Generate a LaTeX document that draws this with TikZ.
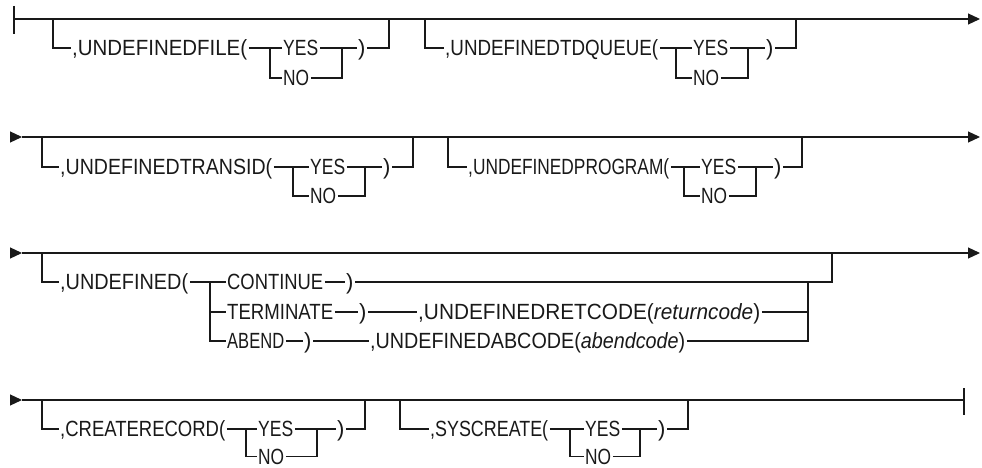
\documentclass[tikz,border=0pt]{standalone}
\usepackage{fontspec}
\usepackage{graphicx}
\setmainfont{Liberation Sans}
\usetikzlibrary{arrows.meta}
\newcommand{\fw}[2]{\resizebox{#1}{\height}{#2}}
\begin{document}
\begin{tikzpicture}[x=1pt,y=-1pt,
  rail/.style={line width=1.2pt, line join=miter, draw=black!90},
  endarrow/.style={rail,-{Triangle[length=12pt,width=11pt]}},
  lbl/.style={anchor=west, inner xsep=1.5pt, inner ysep=0pt, text height=15.6pt, text depth=0pt,
              font=\fontsize{22}{24}\selectfont, text=black!90},
  bar/.style={rail}]
\useasboundingbox (0,0) rectangle (982,468);

% ---------------- Row 1 ----------------
\coordinate (r1s) at (14,19);
\coordinate (r1e) at (980,19);
\coordinate (r1bt) at (14,6);
\coordinate (r1bb) at (14,34);
\draw[bar] (r1bt) -- (r1bb);
\draw[endarrow] (r1s) -- (r1e);
% group A
\coordinate (fa) at (53,19);
\node[lbl] (fileT) at (70.5,48) {\fw{175pt}{,UNDEFINEDFILE(}};
\node[lbl] (fileY) at (281.5,48) {\fw{35pt}{YES}};
\node[lbl] (fileN) at (281.5,78) {\fw{26pt}{NO}};
\node[lbl] (fileP) at (356.5,48) {)};
\coordinate (fileB) at (270,48);
\coordinate (fileR) at (342,48);
\coordinate (fileE) at (389,19);
\draw[rail] (fa) |- (fileT.west);
\draw[rail] (fileT.east) -- (fileY.west);
\draw[rail] (fileB) |- (fileN.west);
\draw[rail] (fileY.east) -- (fileP.west);
\draw[rail] (fileN.east) -| (fileR);
\draw[rail] (fileP.east) -| (fileE);
% group B
\coordinate (tda) at (425,19);
\node[lbl] (tdT) at (443.5,48) {\fw{213pt}{,UNDEFINEDTDQUEUE(}};
\node[lbl] (tdY) at (691.5,48) {\fw{35pt}{YES}};
\node[lbl] (tdN) at (691.5,78) {\fw{26pt}{NO}};
\node[lbl] (tdP) at (764.5,48) {)};
\coordinate (tdB) at (676,48);
\coordinate (tdR) at (748,48);
\coordinate (tdE) at (796,19);
\draw[rail] (tda) |- (tdT.west);
\draw[rail] (tdT.east) -- (tdY.west);
\draw[rail] (tdB) |- (tdN.west);
\draw[rail] (tdY.east) -- (tdP.west);
\draw[rail] (tdN.east) -| (tdR);
\draw[rail] (tdP.east) -| (tdE);

% ---------------- Row 2 ----------------
\coordinate (r2a) at (11,137);
\coordinate (r2s) at (22,137);
\coordinate (r2e) at (980,137);
\draw[endarrow] (r2a) -- (r2s);
\draw[endarrow] (r2s) -- (r2e);
% group A
\coordinate (tra) at (42,137);
\node[lbl] (trT) at (58.5,167) {\fw{212pt}{,UNDEFINEDTRANSID(}};
\node[lbl] (trY) at (308.5,167) {\fw{35pt}{YES}};
\node[lbl] (trN) at (308.5,196) {\fw{26pt}{NO}};
\node[lbl] (trP) at (381.5,167) {)};
\coordinate (trB) at (293,167);
\coordinate (trR) at (365,167);
\coordinate (trE) at (413,137);
\draw[rail] (tra) |- (trT.west);
\draw[rail] (trT.east) -- (trY.west);
\draw[rail] (trB) |- (trN.west);
\draw[rail] (trY.east) -- (trP.west);
\draw[rail] (trN.east) -| (trR);
\draw[rail] (trP.east) -| (trE);
% group B
\coordinate (pga) at (448,137);
\node[lbl] (pgT) at (466.5,167) {\fw{201pt}{,UNDEFINEDPROGRAM(}};
\node[lbl] (pgY) at (699.5,167) {\fw{35pt}{YES}};
\node[lbl] (pgN) at (699.5,196) {\fw{26pt}{NO}};
\node[lbl] (pgP) at (772.5,167) {)};
\coordinate (pgB) at (684,167);
\coordinate (pgR) at (756,167);
\coordinate (pgE) at (802,137);
\draw[rail] (pga) |- (pgT.west);
\draw[rail] (pgT.east) -- (pgY.west);
\draw[rail] (pgB) |- (pgN.west);
\draw[rail] (pgY.east) -- (pgP.west);
\draw[rail] (pgN.east) -| (pgR);
\draw[rail] (pgP.east) -| (pgE);

% ---------------- Row 3 ----------------
\coordinate (r3a) at (11,253);
\coordinate (r3s) at (22,253);
\coordinate (r3e) at (980,253);
\draw[endarrow] (r3a) -- (r3s);
\draw[endarrow] (r3s) -- (r3e);
\coordinate (uda) at (42,253);
\node[lbl] (udT) at (58.5,282) {\fw{128pt}{,UNDEFINED(}};
\coordinate (udB) at (210,282);
\node[lbl] (conT) at (225.5,282) {\fw{96pt}{CONTINUE}};
\node[lbl] (conP) at (344.5,282) {)};
\node[lbl] (terT) at (225.5,312) {\fw{106pt}{TERMINATE}};
\node[lbl] (terP) at (357.5,312) {)};
\node[lbl] (retT) at (416.5,312) {\fw{342pt}{,UNDEFINEDRETCODE(\textit{returncode})}};
\node[lbl] (abT) at (225.5,341) {\fw{57pt}{ABEND}};
\node[lbl] (abP) at (302.5,341) {)};
\node[lbl] (abcT) at (368.5,341) {\fw{315pt}{,UNDEFINEDABCODE(\textit{abendcode})}};
\coordinate (conE) at (832,253);
\coordinate (subR) at (808,282);
\draw[rail] (uda) |- (udT.west);
\draw[rail] (udT.east) -- (conT.west);
\draw[rail] (udB) |- (abT.west);
\draw[rail] (udB |- terT.west) -- (terT.west);
\draw[rail] (conT.east) -- (conP.west);
\draw[rail] (conP.east) -| (conE);
\draw[rail] (terT.east) -- (terP.west);
\draw[rail] (terP.east) -- (retT.west);
\draw[rail] (retT.east) -- (subR |- retT.west);
\draw[rail] (abT.east) -- (abP.west);
\draw[rail] (abP.east) -- (abcT.west);
\draw[rail] (abcT.east) -| (subR);

% ---------------- Row 4 ----------------
\coordinate (r4a) at (11,400);
\coordinate (r4s) at (22,400);
\coordinate (r4e) at (964,400);
\coordinate (r4bt) at (964,388);
\coordinate (r4bb) at (964,415);
\draw[endarrow] (r4a) -- (r4s);
\draw[rail] (r4s) -- (r4e);
\draw[bar] (r4bt) -- (r4bb);
% group A
\coordinate (cra) at (42,400);
\node[lbl] (crT) at (58.5,429) {\fw{165pt}{,CREATERECORD(}};
\node[lbl] (crY) at (256.5,429) {\fw{35pt}{YES}};
\node[lbl] (crN) at (256.5,456.5) {\fw{26pt}{NO}};
\node[lbl] (crP) at (335.5,429) {)};
\coordinate (crB) at (246,429);
\coordinate (crR) at (317,429);
\coordinate (crE) at (365,400);
\draw[rail] (cra) |- (crT.west);
\draw[rail] (crT.east) -- (crY.west);
\draw[rail] (crB) |- (crN.west);
\draw[rail] (crY.east) -- (crP.west);
\draw[rail] (crN.east) -| (crR);
\draw[rail] (crP.east) -| (crE);
% group B
\coordinate (sya) at (400,400);
\node[lbl] (syT) at (428.5,429) {\fw{118pt}{,SYSCREATE(}};
\node[lbl] (syY) at (583.5,429) {\fw{35pt}{YES}};
\node[lbl] (syN) at (583.5,456.5) {\fw{26pt}{NO}};
\node[lbl] (syP) at (656.5,429) {)};
\coordinate (syB) at (570,429);
\coordinate (syR) at (640,429);
\coordinate (syE) at (688,400);
\draw[rail] (sya) |- (syT.west);
\draw[rail] (syT.east) -- (syY.west);
\draw[rail] (syB) |- (syN.west);
\draw[rail] (syY.east) -- (syP.west);
\draw[rail] (syN.east) -| (syR);
\draw[rail] (syP.east) -| (syE);
\end{tikzpicture}
\end{document}
